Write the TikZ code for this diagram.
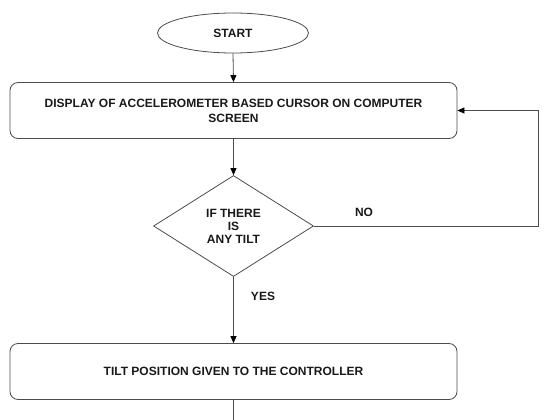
\documentclass[tikz,border=0pt]{standalone}
\usepackage{fontspec}
\setmainfont{Liberation Sans}
\usetikzlibrary{shapes.geometric,arrows.meta}
\begin{document}
\begin{tikzpicture}[x=1pt,y=-1pt,
  line/.style={draw=black!70, line width=0.8pt},
  arr/.style={line, -{Triangle[length=7pt,width=6pt,color=black]}},
  lbl/.style={font=\bfseries\fontsize{12}{15}\selectfont, text=black!90, align=center},
  terminal/.style={ellipse, line, lbl, minimum width=151pt, minimum height=40pt, inner sep=0pt},
  procbox/.style={rectangle, line, lbl, rounded corners=8pt, minimum width=447pt, minimum height=56pt, inner sep=0pt},
  decision/.style={diamond, line, lbl, font=\bfseries\fontsize{12}{13}\selectfont, minimum width=160pt, minimum height=101pt, inner sep=0pt, aspect=1.6},
]
\useasboundingbox (0,0) rectangle (549,420);

% flowchart nodes
\node[terminal] (start) at (233,33) {START};
\node[procbox] (display) at (233.5,110.5) {DISPLAY OF ACCELEROMETER BASED CURSOR ON COMPUTER\\SCREEN};
\node[decision] (tilt) at (233.5,226) {IF THERE\\IS\\ANY TILT};
\node[procbox] (ctrl) at (233.5,371.5) {TILT POSITION GIVEN TO THE CONTROLLER};

% branch labels
\node[lbl] (nolbl) at (364,212) {NO};
\node[lbl] (yeslbl) at (263,296) {YES};

% helper points for the loop-back and the outgoing line
\coordinate (nobend) at (538,226);
\coordinate (tail) at (233.5,420);

% connectors
\draw[arr] (start.south) -- (display.north);
\draw[arr] (display.south) -- (tilt.north);
\draw[arr] (tilt.south) -- (ctrl.north);
\draw[arr] (tilt.east) -- (nobend) |- (display.east);
\draw[line] (ctrl.south) -- (tail);
\end{tikzpicture}
\end{document}
